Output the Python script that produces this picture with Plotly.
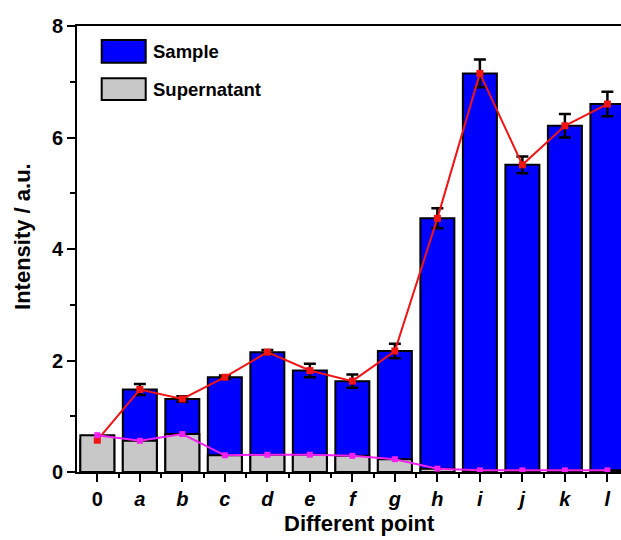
import plotly.graph_objects as go

# Measurement points and intensities
points = ["0", "a", "b", "c", "d", "e", "f", "g", "h", "i", "j", "k", "l"]
sample = [0.57, 1.48, 1.31, 1.70, 2.15, 1.82, 1.63, 2.17, 4.55, 7.15, 5.51, 6.21, 6.60]
sample_err = [0.0, 0.10, 0.05, 0.03, 0.04, 0.12, 0.12, 0.13, 0.18, 0.25, 0.15, 0.21, 0.22]
supernatant = [0.66, 0.56, 0.68, 0.30, 0.31, 0.31, 0.29, 0.23, 0.06, 0.03, 0.03, 0.03, 0.03]
y_ticks = [0, 2, 4, 6, 8]

xpos = list(range(len(points)))
ticktext = [p if p == "0" else f"<i>{p}</i>" for p in points]

FONT = "Liberation Sans, Arial, sans-serif"
BLUE = "#0000FF"
GRAY = "#C8C8C8"
RED = "#F01414"
MAGENTA = "#F020F0"

fig = go.Figure()

fig.add_trace(go.Bar(
    x=xpos, y=sample, width=0.8, name="Sample",
    marker=dict(color=BLUE, line=dict(color="black", width=2)),
    error_y=dict(type="data", array=sample_err, color="black", thickness=2.5, width=6),
))
fig.add_trace(go.Bar(
    x=xpos, y=supernatant, width=0.8, name="Supernatant",
    marker=dict(color=GRAY, line=dict(color="black", width=2)),
))
fig.add_trace(go.Scatter(
    x=xpos, y=sample, mode="lines+markers", showlegend=False,
    line=dict(color=RED, width=2),
    marker=dict(symbol="square", size=7, color=RED),
))
fig.add_trace(go.Scatter(
    x=xpos, y=supernatant, mode="lines+markers", showlegend=False,
    line=dict(color=MAGENTA, width=2),
    marker=dict(symbol="square", size=6, color=MAGENTA),
))

# Legend drawn as swatches + labels in the upper left corner
legend_items = [("Sample", BLUE, 0.9686, 0.9177), ("Supernatant", GRAY, 0.8827, 0.8341)]
for label, color, ytop, ybot in legend_items:
    fig.add_shape(type="rect", xref="paper", yref="paper",
                  x0=0.0454, x1=0.1263, y0=ybot, y1=ytop,
                  fillcolor=color, line=dict(color="black", width=2))
    fig.add_annotation(xref="paper", yref="paper", x=0.136, y=(ytop + ybot) / 2,
                       text=label, showarrow=False, xanchor="left", yanchor="middle",
                       font=dict(family=FONT, size=18.5, color="black", weight="bold"))

# Axis titles
title_font = dict(family=FONT, size=22, color="black", weight="bold")
fig.add_annotation(xref="paper", yref="paper", x=0.52, y=0, yshift=-51,
                   text="Different point", showarrow=False,
                   xanchor="center", yanchor="middle", font=title_font)
fig.add_annotation(xref="paper", yref="paper", x=0, xshift=-54, y=0.527,
                   text="Intensity / a.u.", showarrow=False, textangle=-90,
                   xanchor="center", yanchor="middle", font=title_font)

fig.update_layout(
    width=621, height=540,
    margin=dict(l=77, r=0, t=26, b=68),
    paper_bgcolor="white", plot_bgcolor="white",
    barmode="overlay", bargap=0.2,
    showlegend=False,
    font=dict(family=FONT, color="black"),
)

fig.update_xaxes(
    range=[-0.478, 12.32],
    tickvals=xpos, ticktext=ticktext,
    tickfont=dict(family=FONT, size=20, weight="bold"),
    ticks="outside", ticklen=8, tickwidth=2, tickcolor="black",
    minor=dict(tickvals=[i + 0.5 for i in range(-1, 13)], ticks="outside", ticklen=4, tickwidth=2, tickcolor="black"),
    showline=True, linecolor="black", linewidth=2, mirror=True,
    showgrid=False, zeroline=False,
)
fig.update_yaxes(
    range=[0, 8],
    tickvals=y_ticks,
    tickfont=dict(family=FONT, size=20, weight="bold"),
    ticks="outside", ticklen=8, tickwidth=2, tickcolor="black",
    minor=dict(dtick=1, tick0=1, ticks="outside", ticklen=5, tickwidth=2, tickcolor="black"),
    showline=True, linecolor="black", linewidth=2,
    showgrid=False, zeroline=False,
)

fig.write_html("out.html")
